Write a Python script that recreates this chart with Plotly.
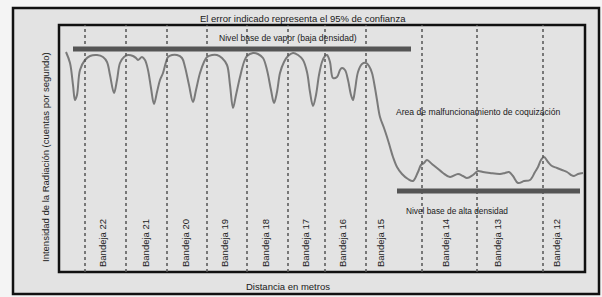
import plotly.graph_objects as go

# ---- data (distance units, intensity units) ----
distance = [7, 11, 14, 16, 18, 21, 26, 31, 38, 44, 48, 51, 55, 58, 61, 65, 69, 74, 77, 79, 83, 86, 89, 92,
            95, 98, 101, 104, 107, 109, 113, 118, 123, 126, 130, 134, 137, 141, 145, 148, 153, 158, 163,
            168, 171, 174, 177, 181, 185, 188, 194, 199, 204, 208, 212, 215, 218, 221, 225, 229, 234, 239,
            244, 248, 251, 254, 257, 260, 263, 266, 268, 271, 274, 278, 281, 283, 286, 289, 292, 294, 296,
            299, 303, 307, 310, 313, 316, 318, 321, 325, 328, 331, 334, 338, 343, 349, 354, 359, 362, 365,
            368, 373, 378, 384, 391, 399, 404, 408, 414, 419, 424, 431, 441, 446, 450, 454, 459, 465, 471,
            476, 479, 482, 485, 489, 493, 498, 503, 508, 512, 515, 519, 524]
intensity = [220, 209, 187, 172, 177, 202, 212, 216, 217, 215, 210, 197, 179, 192, 209, 215, 217, 216, 214,
             212, 215, 212, 202, 184, 168, 180, 192, 199, 210, 215, 217, 217, 214, 205, 187, 170, 182, 199,
             210, 215, 217, 217, 214, 207, 187, 164, 177, 195, 210, 216, 219, 218, 214, 202, 182, 169, 180,
             199, 210, 216, 219, 217, 212, 200, 180, 166, 177, 197, 210, 216, 217, 210, 194, 195, 202, 204,
             202, 192, 177, 172, 182, 200, 208, 209, 206, 199, 184, 172, 155, 144, 135, 125, 115, 105, 98,
             93, 91, 100, 107, 109, 112, 108, 104, 99, 95, 98, 96, 94, 97, 101, 100, 99, 98, 99, 100, 96, 89,
             91, 92, 100, 105, 112, 115, 110, 106, 104, 102, 100, 97, 96, 98, 99]

bandeja_pos = [43, 86, 126, 165, 206, 246, 283, 321, 386, 438, 497]
bandeja_labels = ["Bandeja 22", "Bandeja 21", "Bandeja 20", "Bandeja 19", "Bandeja 18", "Bandeja 17",
                  "Bandeja 16", "Bandeja 15", "Bandeja 14", "Bandeja 13", "Bandeja 12"]
divisions = [26, 67, 108, 148, 188, 229, 266, 307, 363, 418, 484]

vapor_level = 223
vapor_span = [14, 352]
high_level = 81
high_span = [338, 521]

# ---- figure ----
W, H = 602, 297
L, R, T, B = 59, 17, 25, 25
PW, PH = W - L - R, H - T - B


def px(x):
    return (x - L) / PW


def py(y):
    return 1 - (y - T) / PH


FONT = "Liberation Sans, Arial, sans-serif"

fig = go.Figure()
fig.add_trace(go.Scatter(x=distance, y=intensity, mode="lines",
                         line=dict(color="#7a7a7a", width=2), line_shape="spline",
                         hoverinfo="skip", showlegend=False))

shapes = []
# outer frame
shapes.append(dict(type="rect", xref="paper", yref="paper", x0=px(13), x1=px(599), y0=py(294), y1=py(8),
                   line=dict(color="#111", width=2.5), fillcolor="#e3e3e3", layer="below"))
# inner frame
shapes.append(dict(type="rect", xref="paper", yref="paper", x0=0, x1=1, y0=0, y1=1,
                   line=dict(color="#111", width=2.5), layer="above"))
for d in divisions:
    shapes.append(dict(type="line", xref="x", yref="paper", x0=d, x1=d, y0=0, y1=1,
                       line=dict(color="#555", width=1.5, dash="dot")))
shapes.append(dict(type="line", xref="x", yref="y", x0=vapor_span[0], x1=vapor_span[1],
                   y0=vapor_level, y1=vapor_level, line=dict(color="#555", width=5)))
shapes.append(dict(type="line", xref="x", yref="y", x0=high_span[0], x1=high_span[1],
                   y0=high_level, y1=high_level, line=dict(color="#555", width=5)))

C = dict(xanchor="center", yanchor="middle", showarrow=False)
ann = []
for xpos, lab in zip(bandeja_pos, bandeja_labels):
    ann.append(dict(x=xpos, y=29, xref="x", yref="y", text=lab, textangle=-90, **C,
                    font=dict(family=FONT, size=9.5, color="#222")))
ann.append(dict(x=px(303), y=py(18.5), xref="paper", yref="paper", **C,
                text="El error indicado representa el 95% de confianza",
                font=dict(family=FONT, size=9.5, color="#1a1a1a")))
ann.append(dict(x=288 - L, y=272 - 38, xref="x", yref="y", **C,
                text="Nivel base de vapor (baja densidad)",
                font=dict(family=FONT, size=8.6, color="#1a1a1a")))
ann.append(dict(x=478 - L, y=272 - 112, xref="x", yref="y", **C,
                text="Area de malfuncionamiento de coquización",
                font=dict(family=FONT, size=8.6, color="#1a1a1a")))
ann.append(dict(x=457 - L, y=272 - 211, xref="x", yref="y", **C,
                text="Nivel base de alta densidad",
                font=dict(family=FONT, size=8.3, color="#1a1a1a")))
ann.append(dict(x=px(288), y=py(286.5), xref="paper", yref="paper", **C,
                text="Distancia en metros",
                font=dict(family=FONT, size=9.5, color="#1a1a1a")))
ann.append(dict(x=px(45), y=py(157), xref="paper", yref="paper", textangle=-90, **C,
                text="Intensidad de la Radiación (cuentas por segundo)",
                font=dict(family=FONT, size=9.5, color="#1a1a1a")))

fig.update_layout(
    width=W, height=H,
    margin=dict(l=L, r=R, t=T, b=B, pad=0),
    paper_bgcolor="#f4f4f4", plot_bgcolor="#e3e3e3",
    xaxis=dict(range=[0, PW], visible=False, fixedrange=True),
    yaxis=dict(range=[0, PH], visible=False, fixedrange=True),
    shapes=shapes, annotations=ann, showlegend=False,
)

fig.write_html("out.html", config={"displayModeBar": False},
               post_script="document.body.style.margin='0';document.body.style.overflow='hidden';")
